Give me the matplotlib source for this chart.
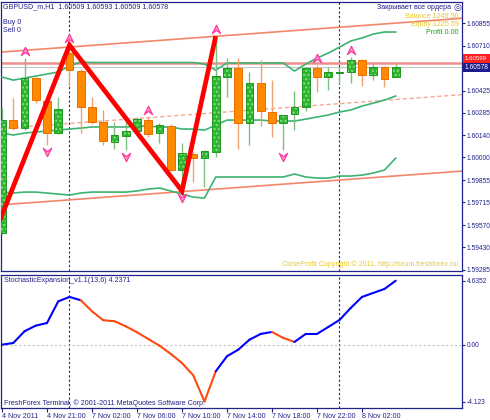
import numpy as np
import matplotlib
matplotlib.use("Agg")
import matplotlib.pyplot as plt
from matplotlib.path import Path
from matplotlib.patches import Rectangle
from matplotlib.transforms import ScaledTranslation

plt.rcParams['font.family'] = ['Liberation Sans', 'DejaVu Sans']

# ---------------- data ----------------
bar_labels = ["4 Nov 17:00", "4 Nov 18:00", "4 Nov 19:00", "4 Nov 20:00", "4 Nov 21:00", "4 Nov 22:00",
              "7 Nov 00:00", "7 Nov 01:00", "7 Nov 02:00", "7 Nov 03:00", "7 Nov 04:00", "7 Nov 05:00",
              "7 Nov 06:00", "7 Nov 07:00", "7 Nov 08:00", "7 Nov 09:00", "7 Nov 10:00", "7 Nov 11:00",
              "7 Nov 12:00", "7 Nov 13:00", "7 Nov 14:00", "7 Nov 15:00", "7 Nov 16:00", "7 Nov 17:00",
              "7 Nov 18:00", "7 Nov 19:00", "7 Nov 20:00", "7 Nov 21:00", "7 Nov 22:00", "7 Nov 23:00",
              "8 Nov 00:00", "8 Nov 01:00", "8 Nov 02:00", "8 Nov 03:00", "8 Nov 04:00", "8 Nov 05:00"]

opens = [1.59519, 1.60238, 1.60187, 1.60505, 1.60360, 1.60155, 1.60664, 1.60550, 1.60321, 1.60225,
         1.60098, 1.60136, 1.60168, 1.60238, 1.60155, 1.60200, 1.59920, 1.60022, 1.59996, 1.60035,
         1.60512, 1.60569, 1.60219, 1.60473, 1.60289, 1.60219, 1.60276, 1.60321, 1.60569, 1.60512,
         1.60540, 1.60543, 1.60620, 1.60524, 1.60575, 1.60509]
highs = [1.60321, 1.60378, 1.60632, 1.60512, 1.60391, 1.60384, 1.60715, 1.60562, 1.60384, 1.60302,
         1.60225, 1.60225, 1.60257, 1.60257, 1.60219, 1.60213, 1.60092, 1.60035, 1.60047, 1.60772,
         1.60632, 1.60632, 1.60543, 1.60620, 1.60492, 1.60270, 1.60423, 1.60575, 1.60588, 1.60575,
         1.60575, 1.60639, 1.60626, 1.60601, 1.60582, 1.60593]
lows = [1.59513, 1.60174, 1.60174, 1.60346, 1.60079, 1.60149, 1.60454, 1.60155, 1.60213, 1.60079,
        1.60054, 1.60047, 1.60162, 1.60130, 1.60092, 1.59914, 1.59787, 1.59844, 1.59812, 1.60003,
        1.60384, 1.60054, 1.60079, 1.60200, 1.60130, 1.60047, 1.60174, 1.60295, 1.60416, 1.60429,
        1.60467, 1.60473, 1.60454, 1.60492, 1.60448, 1.60509]
closes = [1.60238, 1.60187, 1.60505, 1.60365, 1.60155, 1.60308, 1.60556, 1.60321, 1.60225, 1.60105,
          1.60143, 1.60168, 1.60244, 1.60149, 1.60206, 1.59920, 1.60028, 1.59996, 1.60041, 1.60518,
          1.60569, 1.60219, 1.60473, 1.60295, 1.60219, 1.60270, 1.60321, 1.60569, 1.60512, 1.60543,
          1.60543, 1.60620, 1.60524, 1.60575, 1.60499, 1.60578]

band_upper = [1.60512, 1.60492, 1.60505, 1.60518, 1.60531, 1.60543, 1.60582, 1.60607, 1.60604, 1.60604,
              1.60604, 1.60604, 1.60604, 1.60604, 1.60604, 1.60604, 1.60604, 1.60604, 1.60594, 1.60556,
              1.60601, 1.60601, 1.60601, 1.60601, 1.60601, 1.60601, 1.60550, 1.60594, 1.60632, 1.60664,
              1.60702, 1.60741, 1.60760, 1.60785, 1.60798, 1.60798]
band_mid = [1.60155, 1.60143, 1.60155, 1.60162, 1.60168, 1.60174, 1.60181, 1.60187, 1.60194, 1.60194,
            1.60194, 1.60194, 1.60200, 1.60200, 1.60194, 1.60194, 1.60181, 1.60181, 1.60174, 1.60206,
            1.60238, 1.60238, 1.60238, 1.60238, 1.60232, 1.60232, 1.60232, 1.60244, 1.60257, 1.60270,
            1.60289, 1.60302, 1.60327, 1.60346, 1.60365, 1.60391]
band_lower = [1.59780, 1.59774, 1.59780, 1.59780, 1.59774, 1.59767, 1.59761, 1.59774, 1.59780, 1.59780,
              1.59780, 1.59780, 1.59787, 1.59799, 1.59806, 1.59787, 1.59767, 1.59748, 1.59742, 1.59876,
              1.59876, 1.59876, 1.59876, 1.59876, 1.59876, 1.59876, 1.59895, 1.59876, 1.59869, 1.59869,
              1.59882, 1.59882, 1.59888, 1.59901, 1.59920, 1.59996]

# regression channel anchors (bar index, price)
chan_bars = [0, 40]
chan_upper = [1.60671, 1.60881]
chan_mid = [1.60185, 1.60395]
chan_lower = [1.59699, 1.59909]

# zigzag
zz_bars = [-1, 6, 16, 19]
zz_prices = [1.59454, 1.60715, 1.59787, 1.60772]

# fractals
frac_up_bars = [2, 6, 13, 19, 28, 31]
frac_dn_bars = [4, 11, 16, 25]

hline_price = 1.60599
last_price = 1.60578
separators = [6, 30]

price_ticks = [1.60855, 1.60710, 1.60425, 1.60285, 1.60140, 1.60000, 1.59855, 1.59715, 1.59570, 1.59430, 1.59285]
price_tick_labels = ["1.60855", "1.60710", "1.60425", "1.60285", "1.60140", "1.60000", "1.59855",
                     "1.59715", "1.59570", "1.59430", "1.59285"]

stoch = [0.00, 0.12, 0.97, 1.38, 1.57, 3.14, 3.46, 3.22, 2.42, 1.77,
         1.70, 1.33, 0.90, 0.41, -0.07, -0.67, -1.33, -2.22, -4.123, -1.93,
         -0.84, -0.36, 0.36, 0.78, 0.92, 0.49, 0.20, 0.78, 0.78, 1.28,
         1.79, 2.66, 3.46, 3.75, 4.04, 4.6352]
stoch_seg_trend = ['up'] * 7 + ['dn'] * 12 + ['up'] * 5 + ['dn'] * 2 + ['up'] * 9
stoch_ticks = [4.6352, 0.0, -4.123]
stoch_tick_labels = ["4.6352", "0.00", "-4.123"]

date_tick_bars = [0, 4, 8, 12, 16, 20, 24, 28, 32]
date_tick_labels = ["4 Nov 2011", "4 Nov 21:00", "7 Nov 02:00", "7 Nov 06:00", "7 Nov 10:00",
                    "7 Nov 14:00", "7 Nov 18:00", "7 Nov 22:00", "8 Nov 02:00"]

# ---------------- styling ----------------
W, H = 490, 420
NAVY = '#22228c'
GREEN_BODY = '#2db42d'
GREEN_DOT = '#86de86'
GREEN_EDGE = '#1f961f'
ORANGE_BODY = '#ff8a00'
ORANGE_EDGE = '#e86f00'
WICK_G = '#7cbf7c'
WICK_O = '#f2a070'
BAND = '#3cb371'
CHAN = '#f3866a'
CHAN_MID = '#f5a88e'
ARROW = '#ff3aa0'
YEL = '#e9c92a'
FS = 5.1
FS_AX = 4.8

fig = plt.figure(figsize=(W / 100, H / 100), dpi=100)
fig.patch.set_facecolor('white')


def fx(px):
    return px / W


def fy(py):
    return 1 - py / H


ax1 = fig.add_axes([fx(1), fy(271), fx(461), 269 / H])
ax2 = fig.add_axes([fx(1), fy(408), fx(461), 133 / H])

xlim = (-0.089, 40.89)
x = np.arange(len(opens))
o = np.array(opens); h = np.array(highs); l = np.array(lows); c = np.array(closes)
up = c >= o

for ax in (ax1, ax2):
    ax.set_xlim(*xlim)
    for s in ax.spines.values():
        s.set_color(NAVY)
        s.set_linewidth(0.9)
    for sx in separators:
        ax.axvline(sx, color=NAVY, lw=0.8, ls=(0, (2, 2)), zorder=1)

# ---- main panel ----
ax1.set_ylim(1.59278, 1.60989)
ax1.axhline(last_price, color='#c8c8c8', lw=0.8, zorder=1)
ax1.axhline(hline_price, color='#f07a7a', lw=1.8, alpha=0.85, zorder=1)

ax1.axline((chan_bars[0], chan_upper[0]), (chan_bars[1], chan_upper[1]), color=CHAN, lw=1.2, zorder=2)
ax1.axline((chan_bars[0], chan_lower[0]), (chan_bars[1], chan_lower[1]), color=CHAN, lw=1.2, zorder=2)
ax1.axline((chan_bars[0], chan_mid[0]), (chan_bars[1], chan_mid[1]), color=CHAN_MID, lw=1.0,
           ls=(0, (3, 2)), zorder=2)

ax1.plot(x, band_upper, color=BAND, lw=1.2, zorder=3)
ax1.plot(x, band_mid, color=BAND, lw=1.2, zorder=3)
ax1.plot(x, band_lower, color=BAND, lw=1.2, zorder=3)

ax1.vlines(x[up], l[up], h[up], colors=WICK_G, lw=1.0, zorder=4)
ax1.vlines(x[~up], l[~up], h[~up], colors=WICK_O, lw=1.0, zorder=4)

bw = 0.68
gb = np.minimum(o, c); gh = np.abs(c - o)
gh = np.maximum(gh, 0.000015)
plt.rcParams['hatch.linewidth'] = 1.0
ax1.bar(x[up], gh[up], bottom=gb[up], width=bw, facecolor=GREEN_BODY, edgecolor=GREEN_DOT,
        linewidth=0, hatch='....', zorder=5)
ax1.bar(x[up], gh[up], bottom=gb[up], width=bw, facecolor='none', edgecolor=GREEN_EDGE,
        linewidth=0.7, zorder=6)
ax1.bar(x[~up], gh[~up], bottom=gb[~up], width=bw, facecolor=ORANGE_BODY, edgecolor=ORANGE_EDGE,
        linewidth=0.7, zorder=5)

ax1.plot(zz_bars, zz_prices, color='#ff0000', lw=3.4, zorder=7, solid_capstyle='butt',
         solid_joinstyle='miter')

up_marker = Path([(0, 1), (1, -1), (0, -0.2), (-1, -1), (0, 1)],
                 [Path.MOVETO, Path.LINETO, Path.LINETO, Path.LINETO, Path.CLOSEPOLY])
dn_marker = Path([(0, -1), (1, 1), (0, 0.2), (-1, 1), (0, -1)],
                 [Path.MOVETO, Path.LINETO, Path.LINETO, Path.LINETO, Path.CLOSEPOLY])
tr_up = ax1.transData + ScaledTranslation(0, 7 / 100, fig.dpi_scale_trans)
tr_dn = ax1.transData + ScaledTranslation(0, -7 / 100, fig.dpi_scale_trans)
ax1.plot(frac_up_bars, [highs[i] for i in frac_up_bars], ls='none', marker=up_marker, ms=6,
         mfc='#ff9fd0', mec=ARROW, mew=0.9, transform=tr_up, zorder=8, clip_on=False)
ax1.plot(frac_dn_bars, [lows[i] for i in frac_dn_bars], ls='none', marker=dn_marker, ms=6,
         mfc='#ff9fd0', mec=ARROW, mew=0.9, transform=tr_dn, zorder=8, clip_on=False)

ax1.yaxis.tick_right()
ax1.set_yticks(price_ticks)
ax1.set_yticklabels(price_tick_labels)
ax1.tick_params(axis='y', colors=NAVY, labelsize=FS_AX, length=2.5, width=0.8, pad=1.0)
ax1.set_xticks([])

# ---- indicator panel ----
ax2.set_ylim(-4.59, 5.05)
ax2.axhline(0, color='#c4c4c4', lw=0.8, ls=(0, (2, 2)), zorder=1)
for k in range(len(stoch) - 1):
    col = '#0000ff' if stoch_seg_trend[k] == 'up' else '#ff4a10'
    ax2.plot([x[k], x[k + 1]], [stoch[k], stoch[k + 1]], color=col, lw=1.5,
             solid_capstyle='round', zorder=3)
ax2.yaxis.tick_right()
ax2.set_yticks(stoch_ticks)
ax2.set_yticklabels(stoch_tick_labels)
ax2.tick_params(axis='y', colors=NAVY, labelsize=FS_AX, length=2.5, width=0.8, pad=1.0)
ax2.set_xticks(date_tick_bars)
ax2.set_xticklabels(date_tick_labels)
ax2.tick_params(axis='x', colors=NAVY, labelsize=FS, length=3, width=0.8, pad=0.5)
for lab in ax2.get_xticklabels():
    lab.set_ha('left')

# ---- texts ----
fig.text(fx(3), fy(7), "GBPUSD_m,H1  1.60509 1.60593 1.60509 1.60578", color=NAVY, fontsize=FS,
         va='center', ha='left')
fig.text(fx(3), fy(23), "Buy 0", color=NAVY, fontsize=FS, va='center')
fig.text(fx(3), fy(31), "Sell 0", color=NAVY, fontsize=FS, va='center')
fig.text(fx(451), fy(7.5), "Закрывает все ордера", color=NAVY, fontsize=FS, va='center', ha='right')
fig.text(fx(457), fy(7.5), "◎", color=NAVY, fontsize=6.5, va='center', ha='center',
         family=['DejaVu Sans'])
fig.text(fx(459), fy(16.5), "Balance 1249.30", color=YEL, fontsize=FS, va='center', ha='right')
fig.text(fx(459), fy(24.5), "Equity 1225.59", color=YEL, fontsize=FS, va='center', ha='right')
fig.text(fx(459), fy(32), "Profit 0.00", color='#1f9e1f', fontsize=FS, va='center', ha='right')
fig.text(fx(458), fy(264), "CloseProfit Copyright © 2011, http://forum.freshforex.ru/", color=YEL,
         fontsize=FS, va='center', ha='right')
fig.text(fx(4), fy(281), "StochasticExpansion_v1.1(13,6) 4.2371", color=NAVY, fontsize=FS, va='center')
fig.text(fx(4), fy(403), "FreshForex Terminal, © 2001-2011 MetaQuotes Software Corp.", color=NAVY,
         fontsize=FS, va='center')

# price label boxes on axis
fig.patches.append(Rectangle((fx(463), fy(63.5)), fx(27), 9 / H, transform=fig.transFigure,
                             facecolor='#ff2020', edgecolor='none', zorder=10))
fig.text(fx(464.5), fy(58.8), "1.60599", color='white', fontsize=4.4, va='center', zorder=11)
fig.patches.append(Rectangle((fx(463), fy(72)), fx(27), 9 / H, transform=fig.transFigure,
                             facecolor='#1c1c8c', edgecolor='none', zorder=12))
fig.text(fx(464.5), fy(67.6), "1.60578", color='white', fontsize=FS_AX, va='center', zorder=13)

fig.savefig('out.png', dpi=100)
